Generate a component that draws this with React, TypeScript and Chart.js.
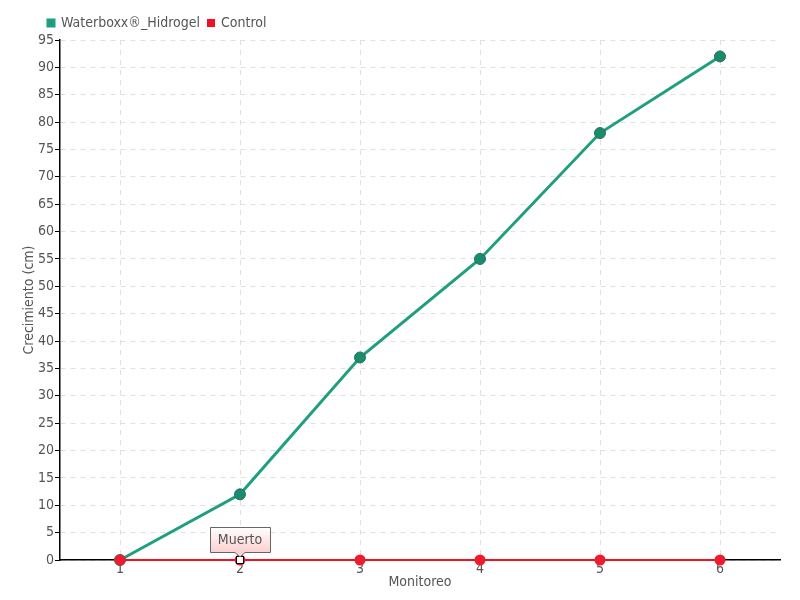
import React, { useEffect, useRef } from "react";
import { Chart, registerables } from "chart.js";

Chart.register(...registerables);

const categories = ["1", "2", "3", "4", "5", "6"];
const waterboxxValues = [0, 12, 37, 55, 78, 92];
const controlValues = [0, 0, 0, 0, 0, 0];
const seriesNames = ["Waterboxx®_Hidrogel", "Control"];
const noteLabel = "Muerto";
const noteIndex = 1;

const FONT = "'DejaVu Sans Condensed', 'DejaVu Sans', sans-serif";
const TEXT = "#555555";

const notePlugin = {
  id: "notePlugin",
  beforeDraw(chart: any) {
    if (chart.legend) chart.legend.left = 40;
  },
  afterDatasetsDraw(chart: any) {
    const { ctx, scales } = chart;
    const x = scales.x.getPixelForValue(noteIndex);
    const y = scales.y.getPixelForValue(controlValues[noteIndex]);
    ctx.save();
    ctx.fillStyle = "#ffffff";
    ctx.strokeStyle = "#000000";
    ctx.lineWidth = 1;
    ctx.fillRect(x - 3.5, y - 3.5, 7, 7);
    ctx.strokeRect(x - 3.5, y - 3.5, 7, 7);
    ctx.font = `14px ${FONT}`;
    const w = 60;
    const h = 25;
    const bx = Math.round(x - w / 2);
    const by = Math.round(y - 8 - h);
    const grad = ctx.createLinearGradient(0, by, 0, by + h);
    grad.addColorStop(0, "#ffffff");
    grad.addColorStop(1, "#fcd0d0");
    ctx.beginPath();
    ctx.moveTo(bx + 0.5, by + 0.5);
    ctx.lineTo(bx + w + 0.5, by + 0.5);
    ctx.lineTo(bx + w + 0.5, by + h + 0.5);
    ctx.lineTo(x + 5, by + h + 0.5);
    ctx.lineTo(x, by + h + 5);
    ctx.lineTo(x - 5, by + h + 0.5);
    ctx.lineTo(bx + 0.5, by + h + 0.5);
    ctx.closePath();
    ctx.fillStyle = grad;
    ctx.fill();
    ctx.strokeStyle = "#666666";
    ctx.stroke();
    ctx.fillStyle = TEXT;
    ctx.textAlign = "center";
    ctx.textBaseline = "middle";
    ctx.fillText(noteLabel, x, by + h / 2 + 1);
    ctx.restore();
  },
};

export default function App() {
  const ref = useRef<HTMLCanvasElement>(null);
  useEffect(() => {
    document.body.style.margin = "0";
    const chart = new Chart(ref.current!, {
      type: "line",
      data: {
        labels: categories,
        datasets: [
          {
            label: seriesNames[0],
            data: waterboxxValues,
            borderColor: "#1f9e80",
            backgroundColor: "#1a9a78",
            borderWidth: 3,
            pointRadius: 5.5,
            pointBackgroundColor: "#1a8c6e",
            pointBorderColor: "#2b6e5a",
            pointBorderWidth: 1,
            tension: 0,
            order: 2,
            clip: false,
          },
          {
            label: seriesNames[1],
            data: controlValues,
            borderColor: "#ee1122",
            backgroundColor: "#ee1122",
            borderWidth: 2,
            pointRadius: 4.5,
            pointBackgroundColor: "#ee1c2e",
            pointBorderColor: "#ee1c2e",
            tension: 0,
            order: 1,
            clip: false,
          },
        ],
      },
      options: {
        animation: false,
        responsive: false,
        layout: { padding: { left: 20, right: 20, top: 8, bottom: 9 } },
        plugins: {
          legend: {
            position: "top",
            align: "start",
            labels: {
              boxWidth: 6,
              boxHeight: 6,
              padding: 8,
              color: TEXT,
              font: { family: FONT, size: 14 },
              sort: (a: any, b: any) => a.datasetIndex - b.datasetIndex,
            },
          },
          tooltip: { enabled: false },
        },
        scales: {
          x: {
            offset: true,
            afterFit: (s: any) => {
              s.height = 31;
            },
            grid: {
              color: "#e0e0e0",
              drawTicks: false,
              offset: false,
            },
            border: { color: "#000000", width: 1.5, dash: [5, 5] },
            ticks: { color: TEXT, font: { family: FONT, size: 14 }, padding: 1 },
            title: {
              display: true,
              text: "Monitoreo",
              color: TEXT,
              font: { family: FONT, size: 14 },
              padding: { top: 0, bottom: 0 },
            },
          },
          y: {
            min: 0,
            max: 95,
            afterFit: (s: any) => {
              s.width = 40;
            },
            ticks: {
              stepSize: 5,
              color: TEXT,
              font: { family: FONT, size: 14 },
              padding: 1,
            },
            grid: {
              color: "#e0e0e0",
              tickColor: "#000000",
              tickLength: 5,
              tickBorderDash: [],
            },
            border: { color: "#000000", width: 1.5, dash: [5, 5] },
            title: {
              display: true,
              text: "Crecimiento (cm)",
              color: TEXT,
              font: { family: FONT, size: 14 },
              padding: { top: 1, bottom: 0 },
            },
          },
        },
      },
      plugins: [notePlugin],
    });
    return () => chart.destroy();
  }, []);
  return (
    <div style={{ width: 800, height: 600 }}>
      <canvas ref={ref} width={800} height={600} />
    </div>
  );
}
